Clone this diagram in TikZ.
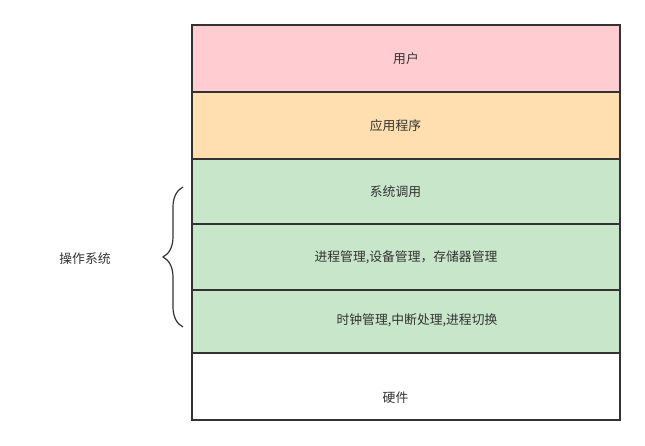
\documentclass[tikz,border=0pt]{standalone}
\usepackage{fontspec}
\usepackage{tikz}
\usetikzlibrary{positioning, decorations.pathreplacing}
\usepackage{xcolor}
\newfontfamily\cjk{Noto Sans CJK SC}
\definecolor{userpink}{HTML}{FFCCD1}
\definecolor{apporange}{HTML}{FFDFB0}
\definecolor{osgreen}{HTML}{C8E6CA}
\definecolor{edgegray}{HTML}{333333}

\begin{document}
\begin{tikzpicture}[x=1pt, y=-1pt, every node/.style={font=\cjk\fontsize{12.8}{15}\selectfont, text=edgegray}]
  \tikzstyle{layer} = [rectangle, minimum width=428pt, text centered, draw=edgegray, line width=1.6pt, outer sep=0pt, inner sep=0pt]
  \tikzstyle{bracket} = [draw=edgegray, line width=1.2pt, decorate, decoration={brace, amplitude=20pt}]

  \useasboundingbox (0,0) rectangle (645,445);

  \node (user) [layer, fill=userpink, minimum height=67pt, anchor=north west] at (192,25) {用户};
  \node (app) [layer, fill=apporange, minimum height=67pt, below=0pt of user,
    label={[xshift=-10.5pt]center:应用程序}] {};
  \node (syscall) [layer, fill=osgreen, minimum height=65pt, below=0pt of app,
    label={[xshift=-10.5pt]center:系统调用}] {};
  \node (manage) [layer, fill=osgreen, minimum height=66pt, below=0pt of syscall] {进程管理,设备管理，存储器管理};
  \node (kernel) [layer, fill=osgreen, minimum height=63pt, below=0pt of manage,
    label={[xshift=11pt, yshift=1pt]center:时钟管理,中断处理,进程切换}] {};
  \node (hardware) [layer, fill=white, minimum height=67pt, below=0pt of kernel,
    label={[xshift=-10.5pt, yshift=-11.5pt]center:硬件}] {};

  \coordinate (bracetop) at (183,187);
  \coordinate (bracebottom) at (183,327);
  \draw [bracket] (bracebottom) -- (bracetop);

  \node (os) at (85,259) {操作系统};
\end{tikzpicture}
\end{document}
